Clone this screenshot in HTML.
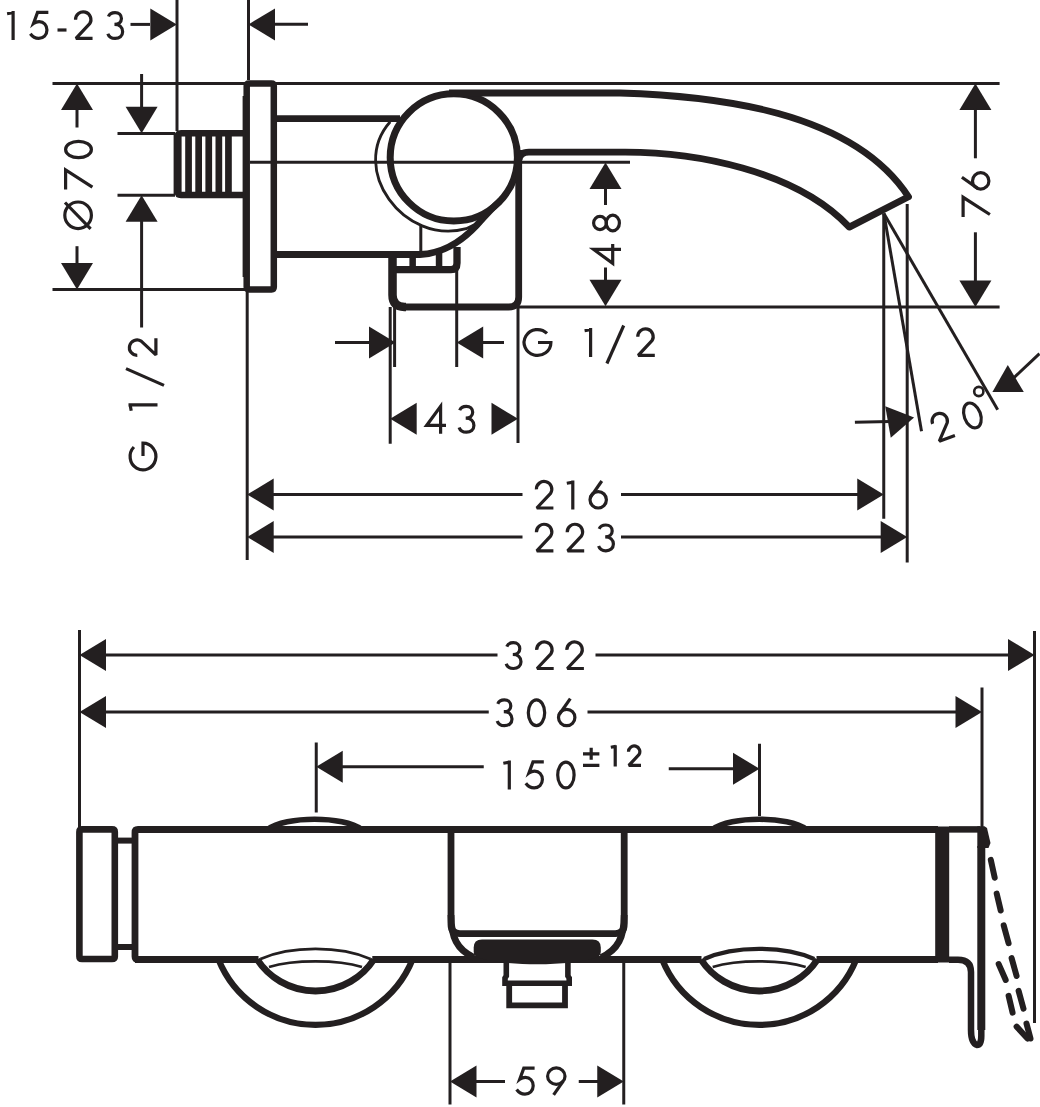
<!DOCTYPE html>
<html><head><meta charset="utf-8"><style>
html,body{margin:0;padding:0;background:#fff;width:1040px;height:1107px;overflow:hidden;font-family:"Liberation Sans",sans-serif;}
svg{display:block;}
</style></head><body>
<svg width="1040" height="1107" viewBox="0 0 1040 1107">
<g stroke="#231f20" fill="none" stroke-linecap="butt" stroke-linejoin="miter">
<g transform="translate(6.8,40)" stroke-width="3.200"><path d="M6.3,-29 V0 M7,-27.5 L0.3,-26.3"/></g>
<g transform="translate(28.75,40)" stroke-width="3.200"><path d="M19.6,-27.6 H8.8 L4.7,-16.4 C6.4,-17.7 8.4,-18.4 10.4,-18.4 C15,-18.4 18.2,-14.7 18.2,-9.9 C18.2,-4.9 14.6,-1.6 10,-1.6 C6.6,-1.6 3.6,-3.4 1.6,-6.2"/></g>
<g transform="translate(57.5,40)" stroke-width="3.200"><path d="M0,-10 H9"/></g>
<g transform="translate(73.75,40)" stroke-width="3.200"><path stroke-linejoin="bevel" d="M1.8,-20.2 A7.7,7.7 0 1 1 16.0,-16.3 L2.2,-1.6 H18.8"/></g>
<g transform="translate(106.25,40)" stroke-width="3.200"><path d="M2.2,-23.5 C3.3,-26.3 5.8,-27.4 8.8,-27.4 C12.6,-27.4 15.2,-25 15.2,-21.4 C15.2,-17.6 12.3,-15.6 8.2,-15.6 C13.2,-15.6 16.4,-12.6 16.4,-8.3 C16.4,-3.9 13.1,-1.6 8.9,-1.6 C5.4,-1.6 2.6,-3.3 1.6,-6.3"/></g>
<line x1="130.5" y1="24.4" x2="150" y2="24.4" stroke-width="3.0"/>
<polygon points="176.8,24.4 150.3,8.399999999999999 150.3,40.4" fill="#231f20" stroke="none"/>
<line x1="177" y1="0" x2="177" y2="131" stroke-width="3.0"/>
<line x1="248.5" y1="0" x2="248.5" y2="80" stroke-width="3.0"/>
<polygon points="248.5,24.4 275.0,8.399999999999999 275.0,40.4" fill="#231f20" stroke="none"/>
<line x1="275" y1="24.2" x2="308" y2="24.2" stroke-width="3.0"/>
<line x1="52.5" y1="83.4" x2="999.6" y2="83.4" stroke-width="3.0"/>
<polygon points="77,83.4 61.0,109.9 93.0,109.9" fill="#231f20" stroke="none"/>
<line x1="77" y1="109" x2="77" y2="127.5" stroke-width="3.0"/>
<g transform="translate(93,230.3) rotate(-90)">
<g transform="translate(0,0)" stroke-width="3.2"><circle cx="15" cy="-14.9" r="13.3"/><path d="M27.8,-28 L1.5,-2.4"/></g>
<g transform="translate(40.7,0)" stroke-width="3.2"><path d="M0,-27.4 H19.6 L2.4,-0.6"/></g>
<g transform="translate(71,0)" stroke-width="3.2"><ellipse cx="9.8" cy="-14.5" rx="8.2" ry="12.9"/></g>
</g>
<line x1="77" y1="246.2" x2="77" y2="264" stroke-width="3.0"/>
<polygon points="77,289.6 61.0,263.1 93.0,263.1" fill="#231f20" stroke="none"/>
<line x1="52.5" y1="289.5" x2="247.5" y2="289.5" stroke-width="3.0"/>
<line x1="141.6" y1="74" x2="141.6" y2="107" stroke-width="3.0"/>
<polygon points="141.6,133.3 125.6,106.80000000000001 157.6,106.80000000000001" fill="#231f20" stroke="none"/>
<line x1="117.5" y1="133.4" x2="175" y2="133.4" stroke-width="3.0"/>
<line x1="117.5" y1="195.3" x2="175" y2="195.3" stroke-width="3.0"/>
<polygon points="141.6,195.3 125.6,221.8 157.6,221.8" fill="#231f20" stroke="none"/>
<line x1="141.6" y1="221" x2="141.6" y2="327.5" stroke-width="3.0"/>
<g transform="translate(157.5,471.5) rotate(-90)">
<g transform="translate(0,0)" stroke-width="3.2"><path d="M24.5,-23.6 A13.4,12.9 0 1 0 28.4,-14.5 H15.5"/></g>
<g transform="translate(60.4,0)" stroke-width="3.2"><path d="M6.3,-29 V0 M7,-27.5 L0.3,-26.3"/></g>
<g transform="translate(84.5,0)" stroke-width="3.2"><path d="M18.4,-31.5 L1.6,6.5"/></g>
<g transform="translate(114.4,0)" stroke-width="3.2"><path stroke-linejoin="bevel" d="M1.8,-20.2 A7.7,7.7 0 1 1 16.0,-16.3 L2.2,-1.6 H18.8"/></g>
</g>
<path d="M247,133.2 H181 Q177.7,133.2 177.7,136.5 V191.5 Q177.7,195 181,195 H247" stroke-width="6.6" fill="none" />
<rect x="173.6" y="134" width="8" height="60" fill="#231f20" stroke="none"/>
<rect x="185.2" y="135" width="6.7" height="58" fill="#231f20" stroke="none"/>
<rect x="195.3" y="135" width="6.7" height="58" fill="#231f20" stroke="none"/>
<rect x="205.4" y="135" width="6.7" height="58" fill="#231f20" stroke="none"/>
<rect x="215.5" y="135" width="6.7" height="58" fill="#231f20" stroke="none"/>
<rect x="225.1" y="135" width="6.7" height="58" fill="#231f20" stroke="none"/>
<path d="M246.7,86 V287 Q246.7,289.4 249,289.4 H271.5 Q273.8,289.4 273.8,287 V86 Q273.8,83.6 271.5,83.6 H249 Q246.7,83.6 246.7,86 Z" stroke-width="6.5" fill="none" />
<rect x="242.6" y="96" width="3" height="181" fill="#231f20" stroke="none"/>
<line x1="250" y1="162.3" x2="630" y2="162.3" stroke-width="3.0"/>
<line x1="276.5" y1="118.6" x2="400" y2="118.6" stroke-width="6.8"/>
<circle cx="453.8" cy="157.4" r="63.6" stroke-width="7" fill="none"/>
<path d="M390.2,121.7 C348.2,169.2 403.9,245.8 466.2,228.7 L476,224" stroke-width="2.8" fill="none" />
<path d="M276.5,254.5 H420 C440,253.5 460,243 476,226 C484,217 492,208 500,201" stroke-width="6.8" fill="none" />
<line x1="420.8" y1="225" x2="420.8" y2="251" stroke-width="3.0"/>
<path d="M392,269.7 H451 Q457,269.7 457,263 V247" stroke-width="7.3" fill="none" />
<rect x="409.4" y="255" width="6.5" height="13" fill="#231f20" stroke="none"/>
<rect x="435.8" y="251" width="6.5" height="17" fill="#231f20" stroke="none"/>
<path d="M404.5,307 H508.7 Q518.7,307 518.7,297 V150" stroke-width="6.8" fill="none" />
<path d="M392.5,255 V295 Q392.5,306.5 404.5,307 H406" stroke-width="8.5" fill="none" />
<path d="M449,93 H620 C714.1,96 851.8,110.1 908.5,196.8 L849.3,227.1 C795.7,170.3 694.5,151.3 620,152.1 H529 Q519.5,152.1 519,160" stroke-width="6.8" fill="none" stroke-linejoin="round"/>
<polygon points="605.5,162.5 589.5,189.0 621.5,189.0" fill="#231f20" stroke="none"/>
<line x1="605.5" y1="188" x2="605.5" y2="205" stroke-width="3.0"/>
<g transform="translate(621,265) rotate(-90)">
<g transform="translate(0,0)" stroke-width="3.2"><path d="M15.6,0 V-27.4 L1.6,-8.3 H21"/></g>
<g transform="translate(32.5,0)" stroke-width="3.2"><ellipse cx="9.5" cy="-21" rx="6.6" ry="6.4"/><ellipse cx="9.5" cy="-8.2" rx="7.9" ry="6.6"/></g>
</g>
<line x1="605.5" y1="267.5" x2="605.5" y2="281" stroke-width="3.0"/>
<polygon points="605.5,306.3 589.5,279.8 621.5,279.8" fill="#231f20" stroke="none"/>
<line x1="518" y1="307" x2="999.6" y2="307" stroke-width="3.0"/>
<polygon points="975.4,83.4 959.4,109.9 991.4,109.9" fill="#231f20" stroke="none"/>
<line x1="975.4" y1="108" x2="975.4" y2="158.3" stroke-width="3.0"/>
<g transform="translate(990.5,216.9) rotate(-90)">
<g transform="translate(0,0)" stroke-width="3.2"><path d="M0,-27.4 H19.6 L2.4,-0.6"/></g>
<g transform="translate(26.2,0)" stroke-width="3.2"><circle cx="9.8" cy="-9.8" r="8.2"/><path d="M2.3,-12.8 L13.4,-28.6"/></g>
</g>
<line x1="975.4" y1="232.3" x2="975.4" y2="282" stroke-width="3.0"/>
<polygon points="975.4,306.9 959.4,280.4 991.4,280.4" fill="#231f20" stroke="none"/>
<line x1="883.75" y1="213.5" x2="883.75" y2="518.75" stroke-width="3.0"/>
<line x1="907.2" y1="204" x2="907.2" y2="562.5" stroke-width="3.0"/>
<line x1="883.9" y1="213.5" x2="921.5" y2="431.2" stroke-width="3.0"/>
<line x1="883.9" y1="213.5" x2="997.7" y2="409.8" stroke-width="3.0"/>
<polygon points="992.4,392 1007.8,365.1 1023.8,392" fill="#231f20" stroke="none"/>
<line x1="1012" y1="379.5" x2="1039.5" y2="353.6" stroke-width="3.0"/>
<g transform="translate(937.8,443.5) rotate(-20)">
<g transform="translate(0,0)" stroke-width="3.2"><path stroke-linejoin="bevel" d="M1.8,-20.2 A7.7,7.7 0 1 1 16.0,-16.3 L2.2,-1.6 H18.8"/></g>
<g transform="translate(32.3,0)" stroke-width="3.2"><ellipse cx="9.8" cy="-14.5" rx="8.2" ry="12.9"/></g>
</g>
<circle cx="978.8" cy="391.5" r="4.6" stroke-width="2.6" fill="none"/>
<g transform="translate(914.1,417.4) rotate(-10)">
<polygon points="0,0 -26.5,-16 -26.5,16" fill="#231f20" stroke="none"/>
</g>
<line x1="854.9" y1="422.3" x2="890" y2="421.5" stroke-width="3.0"/>
<line x1="394.6" y1="270" x2="394.6" y2="367" stroke-width="3.0"/>
<line x1="456.7" y1="270" x2="456.7" y2="367" stroke-width="3.0"/>
<line x1="335" y1="342.5" x2="369" y2="342.5" stroke-width="3.0"/>
<polygon points="395.5,342.5 369.0,326.5 369.0,358.5" fill="#231f20" stroke="none"/>
<polygon points="456.7,342.5 483.2,326.5 483.2,358.5" fill="#231f20" stroke="none"/>
<line x1="483" y1="342.5" x2="504" y2="342.5" stroke-width="3.0"/>
<g transform="translate(522.5,357)" stroke-width="3.200"><path d="M24.5,-23.6 A13.4,12.9 0 1 0 28.4,-14.5 H15.5"/></g>
<g transform="translate(584.3,357)" stroke-width="3.200"><path d="M6.3,-29 V0 M7,-27.5 L0.3,-26.3"/></g>
<g transform="translate(605.3,357)" stroke-width="3.200"><path d="M18.4,-31.5 L1.6,6.5"/></g>
<g transform="translate(636,357)" stroke-width="3.200"><path stroke-linejoin="bevel" d="M1.8,-20.2 A7.7,7.7 0 1 1 16.0,-16.3 L2.2,-1.6 H18.8"/></g>
<line x1="390.2" y1="307" x2="390.2" y2="443.75" stroke-width="3.0"/>
<line x1="518" y1="307" x2="518" y2="443" stroke-width="3.0"/>
<polygon points="390.2,418.75 416.7,402.75 416.7,434.75" fill="#231f20" stroke="none"/>
<polygon points="518,418.75 491.5,402.75 491.5,434.75" fill="#231f20" stroke="none"/>
<g transform="translate(425,433.75)" stroke-width="3.200"><path d="M15.6,0 V-27.4 L1.6,-8.3 H21"/></g>
<g transform="translate(457.5,433.75)" stroke-width="3.200"><path d="M2.2,-23.5 C3.3,-26.3 5.8,-27.4 8.8,-27.4 C12.6,-27.4 15.2,-25 15.2,-21.4 C15.2,-17.6 12.3,-15.6 8.2,-15.6 C13.2,-15.6 16.4,-12.6 16.4,-8.3 C16.4,-3.9 13.1,-1.6 8.9,-1.6 C5.4,-1.6 2.6,-3.3 1.6,-6.3"/></g>
<line x1="247.2" y1="289.5" x2="247.2" y2="560" stroke-width="3.0"/>
<polygon points="247.2,494.5 273.7,478.5 273.7,510.5" fill="#231f20" stroke="none"/>
<line x1="273" y1="494.5" x2="522.5" y2="494.5" stroke-width="3.0"/>
<g transform="translate(534.6,509.6)" stroke-width="3.200"><path stroke-linejoin="bevel" d="M1.8,-20.2 A7.7,7.7 0 1 1 16.0,-16.3 L2.2,-1.6 H18.8"/></g>
<g transform="translate(566.5,509.6)" stroke-width="3.200"><path d="M6.3,-29 V0 M7,-27.5 L0.3,-26.3"/></g>
<g transform="translate(588.4,509.6)" stroke-width="3.200"><circle cx="9.8" cy="-9.8" r="8.2"/><path d="M2.3,-12.8 L13.4,-28.6"/></g>
<line x1="621" y1="494.5" x2="858" y2="494.5" stroke-width="3.0"/>
<polygon points="883.75,494.5 857.25,478.5 857.25,510.5" fill="#231f20" stroke="none"/>
<polygon points="247.2,537 273.7,521.0 273.7,553.0" fill="#231f20" stroke="none"/>
<line x1="273" y1="537" x2="522.5" y2="537" stroke-width="3.0"/>
<g transform="translate(534.6,552.4)" stroke-width="3.200"><path stroke-linejoin="bevel" d="M1.8,-20.2 A7.7,7.7 0 1 1 16.0,-16.3 L2.2,-1.6 H18.8"/></g>
<g transform="translate(565.4,552.4)" stroke-width="3.200"><path stroke-linejoin="bevel" d="M1.8,-20.2 A7.7,7.7 0 1 1 16.0,-16.3 L2.2,-1.6 H18.8"/></g>
<g transform="translate(597,552.4)" stroke-width="3.200"><path d="M2.2,-23.5 C3.3,-26.3 5.8,-27.4 8.8,-27.4 C12.6,-27.4 15.2,-25 15.2,-21.4 C15.2,-17.6 12.3,-15.6 8.2,-15.6 C13.2,-15.6 16.4,-12.6 16.4,-8.3 C16.4,-3.9 13.1,-1.6 8.9,-1.6 C5.4,-1.6 2.6,-3.3 1.6,-6.3"/></g>
<line x1="621" y1="537" x2="881" y2="537" stroke-width="3.0"/>
<polygon points="907.2,537 880.7,521.0 880.7,553.0" fill="#231f20" stroke="none"/>
<line x1="79.5" y1="630" x2="79.5" y2="829" stroke-width="3.0"/>
<line x1="1034.5" y1="631" x2="1034.5" y2="1023" stroke-width="3.0"/>
<polygon points="79.5,655 106.0,639.0 106.0,671.0" fill="#231f20" stroke="none"/>
<line x1="106" y1="655" x2="497.5" y2="655" stroke-width="3.0"/>
<g transform="translate(504.6,670.1)" stroke-width="3.200"><path d="M2.2,-23.5 C3.3,-26.3 5.8,-27.4 8.8,-27.4 C12.6,-27.4 15.2,-25 15.2,-21.4 C15.2,-17.6 12.3,-15.6 8.2,-15.6 C13.2,-15.6 16.4,-12.6 16.4,-8.3 C16.4,-3.9 13.1,-1.6 8.9,-1.6 C5.4,-1.6 2.6,-3.3 1.6,-6.3"/></g>
<g transform="translate(534.9,670.1)" stroke-width="3.200"><path stroke-linejoin="bevel" d="M1.8,-20.2 A7.7,7.7 0 1 1 16.0,-16.3 L2.2,-1.6 H18.8"/></g>
<g transform="translate(565.1,670.1)" stroke-width="3.200"><path stroke-linejoin="bevel" d="M1.8,-20.2 A7.7,7.7 0 1 1 16.0,-16.3 L2.2,-1.6 H18.8"/></g>
<line x1="595.5" y1="655" x2="1008.5" y2="655" stroke-width="3.0"/>
<polygon points="1034.5,655 1008.0,639.0 1008.0,671.0" fill="#231f20" stroke="none"/>
<line x1="982" y1="687.5" x2="982" y2="829" stroke-width="3.0"/>
<polygon points="79.5,712 106.0,696.0 106.0,728.0" fill="#231f20" stroke="none"/>
<line x1="106" y1="712" x2="488.75" y2="712" stroke-width="3.0"/>
<g transform="translate(495.6,727.3)" stroke-width="3.200"><path d="M2.2,-23.5 C3.3,-26.3 5.8,-27.4 8.8,-27.4 C12.6,-27.4 15.2,-25 15.2,-21.4 C15.2,-17.6 12.3,-15.6 8.2,-15.6 C13.2,-15.6 16.4,-12.6 16.4,-8.3 C16.4,-3.9 13.1,-1.6 8.9,-1.6 C5.4,-1.6 2.6,-3.3 1.6,-6.3"/></g>
<g transform="translate(526.7,727.3)" stroke-width="3.200"><ellipse cx="9.8" cy="-14.5" rx="8.2" ry="12.9"/></g>
<g transform="translate(556.9,727.3)" stroke-width="3.200"><circle cx="9.8" cy="-9.8" r="8.2"/><path d="M2.3,-12.8 L13.4,-28.6"/></g>
<line x1="587.5" y1="712" x2="956" y2="712" stroke-width="3.0"/>
<polygon points="982,712 955.5,696.0 955.5,728.0" fill="#231f20" stroke="none"/>
<line x1="316.25" y1="742.5" x2="316.25" y2="812.5" stroke-width="3.0"/>
<line x1="759.5" y1="743.75" x2="759.5" y2="816" stroke-width="3.0"/>
<polygon points="316.25,766.75 342.75,750.75 342.75,782.75" fill="#231f20" stroke="none"/>
<line x1="342" y1="766.75" x2="483.75" y2="766.75" stroke-width="3.0"/>
<g transform="translate(503,789.5)" stroke-width="3.200"><path d="M6.3,-29 V0 M7,-27.5 L0.3,-26.3"/></g>
<g transform="translate(524.2,789.5)" stroke-width="3.200"><path d="M19.6,-27.6 H8.8 L4.7,-16.4 C6.4,-17.7 8.4,-18.4 10.4,-18.4 C15,-18.4 18.2,-14.7 18.2,-9.9 C18.2,-4.9 14.6,-1.6 10,-1.6 C6.6,-1.6 3.6,-3.4 1.6,-6.2"/></g>
<g transform="translate(556.1,789.5)" stroke-width="3.200"><ellipse cx="9.8" cy="-14.5" rx="8.2" ry="12.9"/></g>
<g transform="translate(583,766.6) scale(0.734)" stroke-width="4.360"><path d="M0,-17.4 H22.3 M11.15,-25.6 V-9.4 M0,-1.6 H22.3"/></g>
<g transform="translate(610.6,766.6) scale(0.734)" stroke-width="4.360"><path d="M6.3,-29 V0 M7,-27.5 L0.3,-26.3"/></g>
<g transform="translate(627.2,766.6) scale(0.734)" stroke-width="4.360"><path stroke-linejoin="bevel" d="M1.8,-20.2 A7.7,7.7 0 1 1 16.0,-16.3 L2.2,-1.6 H18.8"/></g>
<line x1="668.75" y1="768.75" x2="734" y2="768.75" stroke-width="3.0"/>
<polygon points="759.5,768.75 733.0,752.75 733.0,784.75" fill="#231f20" stroke="none"/>
<path d="M82,829.4 H112 Q114.8,829.4 114.8,832 V956.5 Q114.8,959 112,959 H82 Q79.4,959 79.4,956.5 V832 Q79.4,829.4 82,829.4 Z" stroke-width="6.6" fill="none" />
<line x1="117" y1="840.6" x2="133" y2="840.6" stroke-width="6"/>
<line x1="117" y1="947" x2="133" y2="947" stroke-width="6"/>
<path d="M938,829.5 H138 Q135,829.5 135,832.5 V956.5 Q135,959.5 138,959.5 H140" stroke-width="6.8" fill="none" />
<path d="M135,959.5 H258.5 M372.3,959.5 H701.5 M816.5,959.5 H938" stroke-width="6.8"/>
<rect x="935.2" y="826.5" width="14" height="136" fill="#231f20" stroke="none"/>
<path d="M267.6,829.5 C285.6,815.9 343.6,815.9 361.6,829.5" stroke-width="5.6" fill="none" />
<path d="M712.5,829.5 C730.5,815.9 788.5,815.9 806.5,829.5" stroke-width="5.6" fill="none" />
<path d="M451,829.5 V924.6 Q451,933.6 460,933.6 H615.2 Q624.2,933.6 624.2,924.6 V829.5" stroke-width="6.8" fill="none" />
<path d="M451,915 C451,937 457,950 474,957.5" stroke-width="6.8" fill="none" />
<path d="M624.2,915 C624.2,937 618,950 601,957.5" stroke-width="6.8" fill="none" />
<path d="M482,939.4 H592.5 Q600.8,939.4 600.8,947.5 V951.5 Q600.8,956 596,957.8 C570,966.5 505,966.5 478.5,957.8 Q473.7,956 473.7,951.5 V947.5 Q473.7,939.4 482,939.4 Z" fill="#231f20" stroke="none"/>
<path d="M506.3,963 V976 L505,978 V983.2 H569.2 V978 L567.9,976 V963" stroke-width="5.6" fill="none" />
<path d="M509.2,983.2 V1005.3 H565 V983.2" stroke-width="5.8" fill="none" />
<path d="M218.5,959.5 A104.6,104.6 0 0 0 412.5,959.5" stroke-width="6.2" fill="none" />
<path d="M257.2,959.5 A69.7,69.7 0 0 0 373.8,959.5" stroke-width="6.8" fill="none" />
<path d="M260.5,959 C290.5,945.5 340.5,945.5 370.5,959" stroke-width="2.8" fill="none" />
<path d="M269.0,966.9 C293.5,959.5 337.5,959.5 362.0,966.9" stroke-width="2.6" fill="none" />
<path d="M662.2,959.5 A104.6,104.6 0 0 0 856.2,959.5" stroke-width="6.2" fill="none" />
<path d="M700.9000000000001,959.5 A69.7,69.7 0 0 0 817.5,959.5" stroke-width="6.8" fill="none" />
<path d="M704.2,959 C734.2,945.5 784.2,945.5 814.2,959" stroke-width="4.2" fill="none" />
<path d="M712.7,966.9 C737.2,959.5 781.2,959.5 805.7,966.9" stroke-width="2.6" fill="none" />
<path d="M949,829.4 H980" stroke-width="6.5" fill="none" />
<polygon points="977.3,826.2 984.5,826.2 987,828 990.5,843 988.5,848 977.3,848" fill="#231f20" stroke="none"/>
<path d="M981.3,845 V1036 Q981.3,1045 977,1045 Q971,1043 971,1030 V972 Q971,959.7 958,959.7 H949" stroke-width="6.5" fill="none" stroke-linejoin="round"/>
<line x1="981.3" y1="846" x2="981.3" y2="1030" stroke-width="8"/>
<line x1="990.8" y1="859.9" x2="994.7" y2="877.7" stroke-width="6" stroke-linecap="round"/>
<line x1="996.7" y1="893.6" x2="1000.7" y2="910.5" stroke-width="6" stroke-linecap="round"/>
<line x1="1003.7" y1="925.4" x2="1008.6" y2="943.2" stroke-width="6" stroke-linecap="round"/>
<line x1="1011.6" y1="958.1" x2="1016.6" y2="976" stroke-width="6" stroke-linecap="round"/>
<line x1="1018.6" y1="990.9" x2="1023.5" y2="1008.7" stroke-width="6" stroke-linecap="round"/>
<line x1="1026.5" y1="1023.6" x2="1030.5" y2="1038.5" stroke-width="6" stroke-linecap="round"/>
<line x1="998.7" y1="964.1" x2="1005.7" y2="980" stroke-width="6" stroke-linecap="round"/>
<line x1="1008.6" y1="995.8" x2="1012.6" y2="1012.7" stroke-width="6" stroke-linecap="round"/>
<line x1="1016.6" y1="1026.6" x2="1027.5" y2="1038.5" stroke-width="6" stroke-linecap="round"/>
<line x1="450" y1="959" x2="450" y2="1104.5" stroke-width="3.0"/>
<line x1="623.75" y1="959" x2="623.75" y2="1104.5" stroke-width="3.0"/>
<polygon points="450,1081.5 476.5,1065.5 476.5,1097.5" fill="#231f20" stroke="none"/>
<line x1="476" y1="1081.5" x2="505" y2="1081.5" stroke-width="3.0"/>
<g transform="translate(515,1095.75)" stroke-width="3.200"><path d="M19.6,-27.6 H8.8 L4.7,-16.4 C6.4,-17.7 8.4,-18.4 10.4,-18.4 C15,-18.4 18.2,-14.7 18.2,-9.9 C18.2,-4.9 14.6,-1.6 10,-1.6 C6.6,-1.6 3.6,-3.4 1.6,-6.2"/></g>
<g transform="translate(546,1095.75)" stroke-width="3.200"><ellipse cx="10.3" cy="-19.6" rx="8.7" ry="8.2"/><path d="M17.2,-14.6 L7.6,-0.8"/></g>
<line x1="578.75" y1="1081.5" x2="598" y2="1081.5" stroke-width="3.0"/>
<polygon points="623.75,1081.5 597.25,1065.5 597.25,1097.5" fill="#231f20" stroke="none"/>
</g>
</svg>
</body></html>
